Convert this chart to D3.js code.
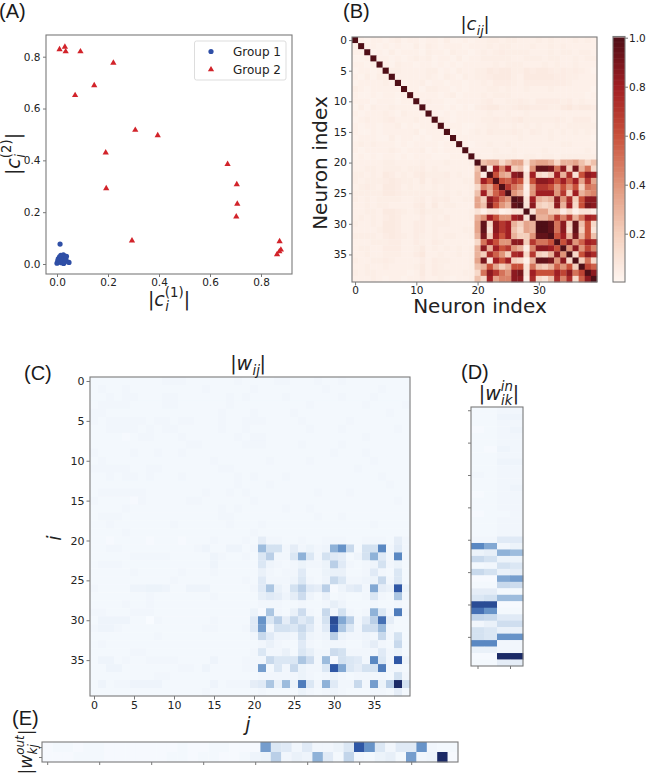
<!DOCTYPE html>
<html>
<head>
<meta charset="utf-8">
<script src="https://cdnjs.cloudflare.com/ajax/libs/d3/7.8.5/d3.min.js"></script>
<style>
html,body{margin:0;padding:0;background:#fff;overflow:hidden}
svg{display:block}
text{font-family:"DejaVu Sans",sans-serif;fill:#222}
.tick text{font-size:10.5px}
.wide .tick text{font-size:11px}
.panel{font-family:"Liberation Sans",Arial,sans-serif;font-size:20px;fill:#1a1a1a}
</style>
</head>
<body>
<svg id="fig" width="646" height="775"></svg>
<script>
// Projection of each neuron on the two latent directions
const group1C1 = [.000,.003,.005,.008,.010,.012,.012,.015,.017,.018,.020,.022,.025,.026,.028,.030,.032,.035,.037,.047];
const group1C2 = [.003,.012,.020,.008,.028,.015,.077,.033,.005,.020,.030,.012,.035,.002,.022,.008,.030,.018,.030,.006];
const group2C1 = [.010,.031,.034,.092,.221,.146,.071,.307,.395,.191,.193,.669,.705,.707,.703,.294,.873,.878,.872,.863];
const group2C2 = [.828,.838,.820,.820,.776,.689,.651,.517,.496,.430,.292,.385,.307,.232,.183,.090,.087,.055,.048,.037];

// |c_ij|: rows 0-19, hundredths per character, X marks the unit diagonal
const corrUpperRows = [
"X323323423 3233242232 3344344333 4343334343",
"3X33232322 4243233323 3343443334 3343433333",
"33X2324233 3243324332 3434544443 3343443443",
"223X332323 4342332423 3444443344 4344334344",
"3323X32433 2332323233 3334344433 3434334333",
"23323X4433 3344232433 4465664465 6654545432",
"324244X333 3343243243 4456664366 6665544333",
"2333343X23 3423323323 3435554355 5555543333",
"43233333X3 3244332323 3344343343 3343333332",
"322323323X 3333234233 3434443333 3333333323",
"3332333233 X343322333 3453344543 5555453433",
"2424334333 3X33323232 4566445665 5544675665",
"3233343243 33X3232333 3343343343 3333333333",
"2343345333 433X432333 3445445644 4445435553",
"3233233423 2334X33322 3344334343 4334344444",
"3223233333 42333X2323 4354445435 4343434343",
"2333224233 232332X333 3333333433 3343333332",
"3434333232 3333233X32 3343343333 3333443333",
"3233334323 34232333X3 3334334333 3433333343",
"2323233232 333222333X 4334444344 3443444444"
];
// |c_ij|: the block of neurons 20-39, in hundredths
const corrBlockRows = [
[100,25,30,30,15,25,35,35,10,30,35,35,30,15,30,30,35,25,15,25],
[25,100,5,80,45,80,20,25,3,40,95,95,90,50,85,20,90,30,50,15],
[30,5,100,60,35,30,85,90,10,80,15,10,20,80,30,75,10,60,85,80],
[30,80,60,100,60,55,70,60,10,60,85,85,80,60,80,55,80,35,70,35],
[15,45,35,60,100,70,50,40,3,40,70,70,60,40,60,40,60,20,50,45],
[25,80,30,55,70,100,40,30,5,40,80,80,80,40,70,20,80,30,40,45],
[35,20,85,70,50,40,100,95,10,80,30,25,30,85,40,75,20,60,85,85],
[35,25,90,60,40,30,95,100,10,85,20,15,20,85,30,80,15,60,90,85],
[10,3,10,10,3,5,10,10,100,10,35,35,20,20,5,15,3,10,10,5],
[30,40,80,60,40,40,80,85,10,100,30,30,40,70,45,70,30,50,80,75],
[35,95,15,85,70,80,30,20,35,30,100,100,95,50,85,20,95,25,60,15],
[35,95,10,85,70,80,25,15,35,30,100,100,95,50,85,15,95,20,60,10],
[30,90,20,80,60,80,30,20,20,40,95,95,100,60,80,30,90,30,60,25],
[15,50,80,60,40,40,85,85,20,70,50,50,60,100,60,85,40,55,80,75],
[30,85,30,80,60,70,40,30,5,45,85,85,80,60,100,40,85,40,65,45],
[30,20,75,55,40,20,75,80,15,70,20,15,30,85,40,100,15,60,85,75],
[35,90,10,80,60,80,20,15,3,30,95,95,90,40,85,15,100,20,50,15],
[25,30,60,35,20,30,60,60,10,50,25,20,30,55,40,60,20,100,65,55],
[15,50,85,70,50,40,85,90,10,80,60,60,60,80,65,85,50,65,100,85],
[25,15,80,35,45,45,85,85,5,75,15,10,25,75,45,75,15,55,85,100]
];

// |w_ij|: rows 0-19 across all columns, hundredths per character
const weightUpperRows = [
"2222222223 3322222232 2223322232 2322222222",
"2322322222 2222322222 3222222223 2222223222",
"2232332223 3222222323 2222322222 2322232222",
"2333322223 3222222322 2222222322 2222322223",
"3322222222 2222223222 3222232222 2222222322",
"3233333233 2332223223 3322223222 2232222222",
"2233332323 3222223223 2222222322 2322222232",
"2222123322 2322222232 3322222222 2222322222",
"2222222222 2233222223 3322223222 2322222222",
"3222232232 2322222222 2222222222 3222322222",
"2322222222 2222232222 2232222322 2222232222",
"3333322332 2222223322 2222222222 2223222222",
"2232332322 2322222232 3222322222 2222223222",
"2222222222 2222222232 2232222222 2222222322",
"2333333222 2222322323 2222222232 2232222222",
"3222213222 2233222222 3222222222 2222222232",
"2222322222 2222223232 2222322322 2222222222",
"2333222222 2222223322 2222222232 2322222222",
"2232222222 3222222322 2322222222 2222232222",
"2222322222 2222222222 3222222222 2222222222"
];
// |w_ij|: rows 20-39 across columns 0-19, hundredths per character
const weightLowerLeftRows = [
"2212222122 2122232223",
"2233222222 2223422442",
"2222233333 2222243223",
"2333222222 2222242222",
"2222232222 2322232222",
"2222222222 3222222223",
"3222244554 2244422222",
"2222222322 2222232222",
"2222322322 2222222222",
"3322233322 2222222222",
"2444422032 2222232222",
"3443222222 2222332223",
"2222222232 2222222222",
"2322222222 2222222222",
"2222233222 2222222222",
"2442322333 3222242223",
"2244222222 2332422223",
"2222222233 2222222222",
"2423344442 2222242333",
"2222222222 2222322222"
];
// |w_ij|: the block of rows and columns 20-39, in hundredths
const weightBlockRows = [
[2,8,3,3,2,2,3,2,2,3,3,3,2,2,3,3,3,2,8,3],
[3,35,15,15,3,8,3,5,3,4,40,55,20,2,15,15,60,3,10,3],
[2,12,25,3,3,12,40,12,3,15,10,8,2,4,15,40,10,3,60,3],
[2,12,4,3,2,3,5,3,3,5,25,10,3,2,3,4,15,3,5,2],
[2,6,3,2,3,3,10,2,2,5,6,6,2,2,3,10,3,2,12,2],
[2,10,3,3,3,4,12,3,2,4,20,12,3,3,4,5,20,3,12,2],
[3,10,30,6,3,15,25,10,8,25,1,4,8,10,3,45,8,6,80,5],
[2,7,10,8,4,8,18,4,2,6,2,3,2,2,3,12,3,2,30,3],
[2,3,3,3,2,2,3,2,2,3,7,4,2,2,2,3,2,2,3,2],
[5,1,30,3,2,6,18,3,2,20,3,15,3,2,3,40,12,3,65,3],
[10,55,12,25,8,20,10,15,3,15,85,45,25,3,10,25,70,8,2,2],
[10,50,3,15,15,12,20,10,3,10,80,30,12,3,17,17,35,3,2,2],
[3,20,10,4,4,3,15,4,3,4,25,5,3,3,4,3,20,3,15,2],
[2,3,6,3,2,2,10,3,2,3,3,3,2,2,4,8,3,2,20,2],
[3,12,3,3,6,2,12,7,3,3,18,15,3,3,3,3,10,3,5,2],
[3,3,20,12,12,12,30,18,3,35,1,15,12,10,3,60,12,3,80,4],
[3,50,2,12,3,20,5,3,3,12,80,45,12,8,15,15,65,3,3,2],
[2,3,3,3,3,3,5,3,2,3,5,3,2,3,3,3,3,2,15,3],
[8,10,30,6,35,5,65,12,3,40,10,3,3,20,3,50,5,25,100,15],
[2,3,2,2,2,2,5,3,2,3,4,3,2,2,2,3,3,2,8,2]
];

// |w^in_ik|: one row per neuron, four strips across, in hundredths
const weightInRows = [
[2,2,3,3],[2,2,4,4],[2,2,3,3],[1,2,3,4],[2,2,3,3],[2,2,3,3],[2,1,4,3],[2,2,3,3],[2,2,4,4],[2,2,3,3],
[3,2,3,3],[2,2,3,3],[2,2,3,4],[1,2,3,3],[2,2,3,3],[2,2,3,3],[1,2,2,3],[2,2,3,3],[2,2,3,3],[2,2,3,3],
[3,3,10,10],[60,45,3,5],[5,7,40,35],[20,15,5,5],[2,3,15,12],[20,15,6,8],[1,1,45,50],[2,2,20,18],[8,8,2,2],[12,15,35,35],
[85,85,1,1],[70,55,2,2],[22,20,10,10],[3,6,17,17],[15,12,6,6],[15,12,55,55],[60,60,3,3],[6,6,3,3],[1,1,100,100],[2,2,8,8]
];
// |w^out_kj|: two rows across all neurons, in hundredths
const weightOutTop = [1,2,2,1,2,2,1,1,1,1,1,1,1,2,1,1,2,2,1,1,1,50,12,10,3,10,3,3,5,12,80,55,12,3,10,10,55,3,2,2];
const weightOutBottom = [1,1,1,2,2,2,1,1,1,1,1,1,2,2,1,2,2,1,1,2,4,5,25,3,6,4,40,10,2,22,3,2,5,7,2,50,3,4,100,1];

const neuronTicks5 = [0,5,10,15,20,25,30,35];
const neuronTicks10 = [0,10,20,30];
const scatterTicks = [0,.2,.4,.6,.8];
const corrBarTicks = [.2,.4,.6,.8,1];
const redStops = ["#fef6f1","#f4cfbc","#e0957a","#c8503a","#a01e23","#4f0f17"];
const blueStops = ["#f8fbff","#c8d9ec","#8fb2d8","#5a88c2","#2f57a5","#1b2a66"];
const spineColor = "#7a7a7a";
const tickColor = "#555";

const svg = d3.select("#fig");
const colorScale = stops => d3.scaleLinear().domain(d3.range(stops.length).map(i => i/(stops.length-1))).range(stops).interpolate(d3.interpolateRgb).clamp(true);
const reds = colorScale(redStops), blues = colorScale(blueStops);

const unspace = s => s.replace(/ /g,"");

// Assemble the two square matrices from their stored parts
const corrMatrix = d3.range(40).map(i => d3.range(40).map(j => {
  if (i>=20 && j>=20) return corrBlockRows[i-20][j-20]/100;
  const ch = i<20 ? unspace(corrUpperRows[i])[j] : unspace(corrUpperRows[j])[i];
  return ch==="X" ? 1 : +ch/100;
}));
const weightMatrix = d3.range(40).map(i => d3.range(40).map(j => {
  if (i>=20 && j>=20) return weightBlockRows[i-20][j-20]/100;
  return +(i<20 ? unspace(weightUpperRows[i])[j] : unspace(weightLowerLeftRows[i-20])[j])/100;
}));

function axisStyle(g){
  g.select(".domain").remove();
  g.selectAll(".tick line").attr("stroke",tickColor).attr("stroke-width",.8);
}
function frame(x0,y0,x1,y1){
  svg.append("rect").attr("x",x0).attr("y",y0).attr("width",x1-x0).attr("height",y1-y0)
    .attr("fill","none").attr("stroke",spineColor).attr("stroke-width",1.1);
}
// Cell grid drawn from a rows-by-columns array
function heat(data,x,y,color){
  const g = svg.append("g");
  data.forEach((row,i)=>{
    g.selectAll(null).data(row).join("rect")
      .attr("x",(d,j)=>x(j-.5)).attr("y",y(i-.5))
      .attr("width",x(.5)-x(-.5)+.3).attr("height",y(i+.5)-y(i-.5)+.3)
      .attr("fill",d=>color(d));
  });
}
// Math-style label: |base with stacked sup/sub|, centred on (cx,cy baseline)
function mathLabel(cx,cy,rot,size,base,sub,sup){
  const g = svg.append("g").attr("transform",`translate(${cx},${cy}) rotate(${rot})`);
  let pos = 0;
  const add = (s,x,y,fs,ital)=>{
    const t = g.append("text").attr("x",x).attr("y",y).attr("font-size",fs)
      .attr("font-style",ital?"italic":"normal").text(s);
    return t.node().getComputedTextLength();
  };
  const small = size*.7;
  pos += add("|",pos,0,size,false);
  pos += add(base,pos,0,size,true);
  let w1 = 0, w2 = 0;
  if (sup) w1 = add(sup,pos,-size*.46,small,sup[0]!=="(");
  if (sub) w2 = add(sub,pos+size*.02,size*.28,small,true);
  pos += Math.max(w1,w2);
  pos += add("|",pos,0,size,false);
  g.selectAll("text").each(function(){ const t=d3.select(this); t.attr("x",+t.attr("x")-pos/2); });
}
const panelLetter = (s,x,y)=>svg.append("text").attr("class","panel").attr("x",x).attr("y",y).text(s);

// (A) scatter of the two projections
{
  const x = d3.scaleLinear().domain([0,.8]).range([57,261]);
  const y = d3.scaleLinear().domain([0,.8]).range([264,56.7]);
  svg.append("g").attr("transform","translate(0,274)")
    .call(d3.axisBottom(x).tickValues(scatterTicks).tickFormat(d3.format(".1f")).tickSize(3).tickPadding(1.5)).call(axisStyle);
  svg.append("g").attr("transform","translate(46,0)")
    .call(d3.axisLeft(y).tickValues(scatterTicks).tickFormat(d3.format(".1f")).tickSize(3).tickPadding(2.5)).call(axisStyle);
  const tri = d3.symbol().type(d3.symbolTriangle).size(17);
  svg.append("g").selectAll("circle").data(group1C1).join("circle")
    .attr("cx",d=>x(d)).attr("cy",(d,i)=>y(group1C2[i])).attr("r",2.6).attr("fill","#2f4fa6");
  svg.append("g").selectAll("path").data(group2C1).join("path")
    .attr("transform",(d,i)=>`translate(${x(d)},${y(group2C2[i])})`).attr("d",tri).attr("fill","#d2232a");
  frame(46,35,292,274);
  svg.append("rect").attr("x",194.5).attr("y",41).attr("width",91.5).attr("height",39)
    .attr("fill","#fff").attr("stroke","#ddd").attr("rx",2);
  svg.append("circle").attr("cx",211).attr("cy",51.5).attr("r",2.6).attr("fill","#2f4fa6");
  svg.append("path").attr("transform","translate(211,69.5)").attr("d",tri).attr("fill","#d2232a");
  svg.append("text").attr("x",233).attr("y",56).attr("font-size",12).text("Group 1");
  svg.append("text").attr("x",233).attr("y",74).attr("font-size",12).text("Group 2");
  mathLabel(169,306,0,19,"c","i","(1)");
  mathLabel(20,154,-90,19,"c","i","(2)");
  panelLetter("(A)",-1,18);
}

// (B) correlation matrix with its colour bar
{
  const x = d3.scaleLinear().domain([-.5,39.5]).range([352,597]);
  const y = d3.scaleLinear().domain([-.5,39.5]).range([37,282]);
  heat(corrMatrix,x,y,reds);
  svg.append("g").attr("transform","translate(0,282)")
    .call(d3.axisBottom(x).tickValues(neuronTicks10).tickSize(3.5).tickPadding(1.5)).call(axisStyle);
  svg.append("g").attr("transform","translate(352,0)")
    .call(d3.axisLeft(y).tickValues(neuronTicks5).tickSize(3).tickPadding(2)).call(axisStyle);
  frame(352,37,597,282);
  mathLabel(475,30,0,18,"c","ij",null);
  svg.append("text").attr("x",480).attr("y",313).attr("text-anchor","middle").attr("font-size",20).text("Neuron index");
  svg.append("text").attr("transform","translate(327,163) rotate(-90)").attr("text-anchor","middle").attr("font-size",20).text("Neuron index");
  panelLetter("(B)",343,18);

  const cb = d3.scaleLinear().domain([0,1]).range([282.7,37.7]);
  svg.append("g").selectAll("rect").data(d3.range(0,1,.005)).join("rect")
    .attr("x",613).attr("width",12).attr("y",d=>cb(d+.005)-.3).attr("height",cb(0)-cb(.005)+.6)
    .attr("fill",d=>reds(d));
  svg.append("g").attr("transform","translate(625,0)")
    .call(d3.axisRight(cb).tickValues(corrBarTicks).tickFormat(d3.format(".1f")).tickSize(3).tickPadding(1)).call(axisStyle);
  frame(613,36.5,625,282);
}

// (C) full weight matrix
{
  const x = d3.scaleLinear().domain([-.5,39.5]).range([90,410]);
  const y = d3.scaleLinear().domain([-.5,39.5]).range([377,696]);
  heat(weightMatrix,x,y,blues);
  svg.append("g").attr("class","wide").attr("transform","translate(0,696)")
    .call(d3.axisBottom(x).tickValues(neuronTicks5).tickSize(3.5).tickPadding(2)).call(axisStyle);
  svg.append("g").attr("class","wide").attr("transform","translate(90,0)")
    .call(d3.axisLeft(y).tickValues(neuronTicks5).tickSize(3.5).tickPadding(2)).call(axisStyle);
  frame(90,377,410,696);
  mathLabel(248,370,0,19,"w","ij",null);
  svg.append("text").attr("transform","translate(61,538) rotate(-90)").attr("text-anchor","middle")
    .attr("font-size",19).attr("font-style","italic").text("i");
  svg.append("text").attr("x",248).attr("y",731).attr("text-anchor","middle")
    .attr("font-size",19).attr("font-style","italic").text("j");
  panelLetter("(C)",24,380);
}

// (D) input weights
{
  const x = d3.scaleLinear().domain([-.5,3.5]).range([471,523]);
  const y = d3.scaleLinear().domain([-.5,39.5]).range([407,666]);
  heat(weightInRows.map(r=>r.map(v=>v/100)),x,y,blues);
  svg.append("g").attr("transform","translate(0,666)")
    .call(d3.axisBottom(x).tickValues([0,2.5]).tickFormat("").tickSize(3)).call(axisStyle);
  svg.append("g").attr("transform","translate(471,0)")
    .call(d3.axisLeft(y).tickValues(neuronTicks5).tickFormat("").tickSize(3)).call(axisStyle);
  frame(471,407,523,666);
  mathLabel(499,400,0,19,"w","ik","in");
  panelLetter("(D)",461,379);
}

// (E) output weights
{
  const x = d3.scaleLinear().domain([-.5,39.5]).range([42,458]);
  const y = d3.scaleLinear().domain([-.5,1.5]).range([742,762]);
  heat([weightOutTop,weightOutBottom].map(r=>r.map(v=>v/100)),x,y,blues);
  svg.append("g").attr("transform","translate(0,762)")
    .call(d3.axisBottom(x).tickValues(neuronTicks5).tickFormat("").tickSize(3)).call(axisStyle);
  svg.append("g").attr("transform","translate(42,0)")
    .call(d3.axisLeft(y).tickValues([0,1]).tickFormat("").tickSize(3)).call(axisStyle);
  frame(42,742,458,762);
  mathLabel(32,752,-90,17,"w","kj","out");
  panelLetter("(E)",12,725);
}
</script>
</body>
</html>
